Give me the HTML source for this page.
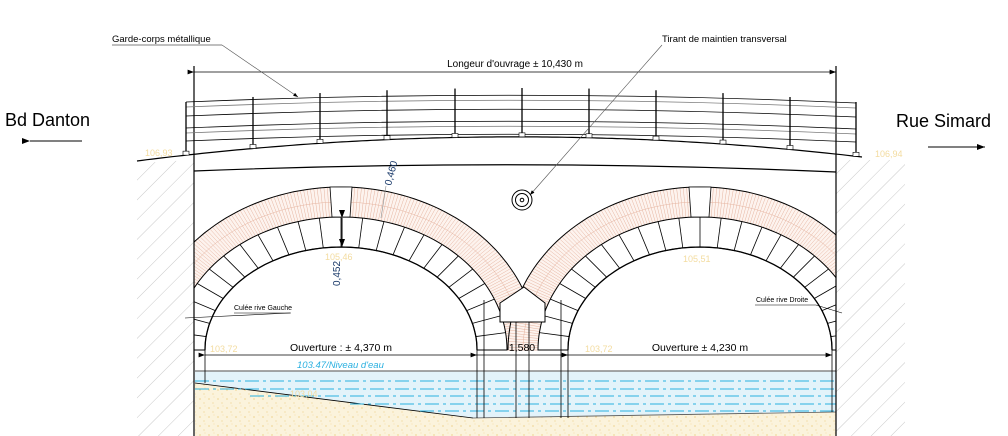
<!DOCTYPE html>
<html><head><meta charset="utf-8"><style>
html,body{margin:0;padding:0;background:#fff;overflow:hidden;width:1008px;height:436px;}
svg{display:block;font-family:"Liberation Sans",sans-serif;}
</style></head><body>
<svg id="s" width="1008" height="436" viewBox="0 0 1008 436" xmlns="http://www.w3.org/2000/svg">
<defs>
<pattern id="h" width="14" height="14" patternUnits="userSpaceOnUse" patternTransform="rotate(45)">
<line x1="0" y1="0" x2="0" y2="14" stroke="#bbb" stroke-width="0.8"/>
</pattern>
<pattern id="sand" width="9" height="9" patternUnits="userSpaceOnUse">
<rect width="9" height="9" fill="#fbf3dc"/>
<circle cx="2" cy="3" r="0.6" fill="#e8c060"/><circle cx="6" cy="7" r="0.5" fill="#e8c060"/><circle cx="7" cy="1" r="0.4" fill="#eecb70"/>
</pattern>
<clipPath id="inner"><rect x="194" y="172" width="642" height="264"/></clipPath>
<marker id="ar" markerWidth="8" markerHeight="6" refX="8" refY="3" orient="auto"><path d="M0,0 L8,3 L0,6 z" fill="#000"/></marker>
</defs>
<polygon points="137,163 194,160 194,436 137,436" fill="url(#h)"/>
<polygon points="836,160 905,160 905,436 836,436" fill="url(#h)"/>
<g id="arches" clip-path="url(#inner)"></g>
<!-- water & ground -->
<rect x="195" y="371" width="641" height="50" fill="#e3f3fa"/>
<polygon points="195,383 473,418 836,412 836,436 195,436" fill="url(#sand)"/>
<line x1="195" y1="383" x2="473" y2="418" stroke="#000" stroke-width="0.8"/>
<line x1="473" y1="418" x2="836" y2="412" stroke="#555" stroke-width="0.8"/>
<line x1="195" y1="371" x2="836" y2="371" stroke="#888" stroke-width="1.5"/>
<g stroke="#2ab0e0" stroke-width="1" stroke-dasharray="14,4,3,4">
<line x1="195" y1="381" x2="836" y2="381"/><line x1="195" y1="389" x2="836" y2="389"/>
<line x1="250" y1="396" x2="836" y2="396"/><line x1="350" y1="404" x2="836" y2="404"/><line x1="420" y1="411" x2="836" y2="411"/>
</g>
<g stroke="#000" stroke-width="1" fill="#fff">
<polygon points="500,303 524,287 545,303 545,322 500,322"/>
</g>
<g stroke="#000" stroke-width="0.8">
<line x1="484" y1="300" x2="484" y2="418"/><line x1="561" y1="300" x2="561" y2="418"/>
<line x1="516" y1="322" x2="516" y2="418"/><line x1="529" y1="322" x2="529" y2="418"/>
<line x1="477" y1="350" x2="477" y2="418"/><line x1="568" y1="350" x2="568" y2="418"/>
<line x1="205" y1="350" x2="205" y2="383"/><line x1="832" y1="350" x2="832" y2="412"/>
</g>
<g stroke="#000" stroke-width="1.2" fill="none">
<line x1="194" y1="66" x2="194" y2="436"/><line x1="836" y1="66" x2="836" y2="436"/>
<path id="deck" d=""/>
<path d="M194,171 Q520,158 836,172"/>
</g>
<g stroke="#000" fill="none" stroke-width="0.8" id="rail">
<path d="M186,102 Q520,88 856,103"/><path d="M186,107 Q520,93 856,108" stroke="#777"/>
<path d="M186,116 Q520,102 856,117"/><path d="M186,128 Q520,114 856,129"/>
<path d="M186,133 Q520,119 856,134" stroke="#777"/><path d="M186,141 Q520,127 856,142"/>
</g>
<line x1="194" y1="72" x2="836" y2="72" stroke="#000" stroke-width="0.8" marker-end="url(#ar)" marker-start="url(#ar)"/>
<text x="515" y="67" font-size="10" text-anchor="middle">Longeur d'ouvrage ± 10,430 m</text>
<text x="112" y="42" font-size="9.5">Garde-corps métallique</text>
<line x1="112" y1="45" x2="222" y2="45" stroke="#000" stroke-width="0.6"/>
<line x1="222" y1="45" x2="298" y2="97" stroke="#555" stroke-width="0.6" marker-end="url(#ar)"/>
<text x="662" y="42" font-size="9.5">Tirant de maintien transversal</text>
<line x1="662" y1="45" x2="530" y2="195" stroke="#555" stroke-width="0.6" marker-end="url(#ar)"/>
<circle cx="522" cy="200" r="10" fill="none" stroke="#000"/><circle cx="522" cy="200" r="6.5" fill="none" stroke="#000"/><circle cx="522" cy="200" r="1.8" fill="none" stroke="#000"/>
<text x="5" y="126" font-size="18">Bd Danton</text>
<line x1="30" y1="141" x2="82" y2="141" stroke="#000" marker-start="url(#ar)"/>
<text x="896" y="127" font-size="18">Rue Simard</text>
<line x1="928" y1="147" x2="985" y2="147" stroke="#000" marker-end="url(#ar)"/>
<text transform="translate(391,186) rotate(-75)" font-size="10" fill="#1a3a6a">0,460</text>
<text transform="translate(340,286) rotate(-90)" font-size="10" fill="#1a3a6a">0,452</text>
<line x1="342" y1="218" x2="342" y2="247" stroke="#000" marker-start="url(#ar)" marker-end="url(#ar)"/>
<line x1="386" y1="186" x2="381" y2="218" stroke="#888" stroke-width="0.6"/>
<text x="234" y="310" font-size="7">Culée rive Gauche</text><line x1="234" y1="313" x2="291" y2="313" stroke="#000" stroke-width="0.6"/>
<line x1="185" y1="318" x2="290" y2="313" stroke="#000" stroke-width="0.6"/>
<text x="756" y="302" font-size="7">Culée rive Droite</text><line x1="755" y1="305" x2="816" y2="305" stroke="#000" stroke-width="0.6"/>
<line x1="816" y1="305" x2="842" y2="313" stroke="#000" stroke-width="0.6"/>
<line x1="205" y1="355" x2="477" y2="355" stroke="#000" stroke-width="0.8" marker-start="url(#ar)" marker-end="url(#ar)"/>
<line x1="477" y1="355" x2="568" y2="355" stroke="#000" stroke-width="0.8"/>
<line x1="568" y1="355" x2="832" y2="355" stroke="#000" stroke-width="0.8" marker-start="url(#ar)" marker-end="url(#ar)"/>
<text x="341" y="351" font-size="10.5" text-anchor="middle">Ouverture : ± 4,370 m</text>
<text x="522" y="351" font-size="10.5" text-anchor="middle">1,580</text>
<text x="700" y="351" font-size="10.5" text-anchor="middle">Ouverture ± 4,230 m</text>
<text x="297" y="368" font-size="9.5" font-style="italic" fill="#2ab0e0">103.47/Niveau  d'eau</text>
<g font-size="9" fill="#f3dca0">
<text x="145" y="156">106,93</text><text x="875" y="157">106,94</text><text x="325" y="260">105,46</text><text x="683" y="262">105,51</text>
<text x="210" y="352">103,72</text><text x="585" y="352">103,72</text><text x="290" y="397">103,04</text>
</g>
</svg>
<script>
var NS="http://www.w3.org/2000/svg";
function el(p,t,a){var e=document.createElementNS(NS,t);for(var k in a)e.setAttribute(k,a[k]);p.appendChild(e);return e;}
function pt(cx,cy,rx,ry,t){return [cx+rx*Math.cos(t),cy-ry*Math.sin(t)];}
function pts(cx,cy,rx,ry,rev){var a=[];for(var i=0;i<=90;i++){var t=Math.PI*i/90;a.push(pt(cx,cy,rx,ry,t));}if(rev)a.reverse();return a;}
function tod(a,close){return a.map(function(p,i){return (i?"L":"M")+p[0].toFixed(1)+","+p[1].toFixed(1);}).join("")+(close?"Z":"");}
var g=document.getElementById("arches");
function arch(cx,cy,rx,ry){
 var b=30,v=30;
 var outer=pts(cx,cy,rx+v+b,ry+v+b),mid=pts(cx,cy,rx+v,ry+v),inn=pts(cx,cy,rx,ry);
 el(g,"path",{d:tod(outer.concat(mid.slice().reverse()),true),fill:"#fdf3ee",stroke:"none"});
 for(var i=0;i<=180;i++){var t=Math.PI*i/180;var a=pt(cx,cy,rx+v,ry+v,t),c=pt(cx,cy,rx+v+b,ry+v+b,t);el(g,"line",{x1:a[0],y1:a[1],x2:c[0],y2:c[1],stroke:"#e6b4a0","stroke-width":"0.5"});}
 el(g,"path",{d:tod(pts(cx,cy,rx+v+b/2,ry+v+b/2)),fill:"none",stroke:"#e6b4a0","stroke-width":"0.5"});
 el(g,"path",{d:tod(outer),fill:"none",stroke:"#000","stroke-width":"1"});
 el(g,"path",{d:tod(mid.concat(inn.slice().reverse()),true),fill:"#fff",stroke:"#000","stroke-width":"1"});
 el(g,"path",{d:tod(inn),fill:"none",stroke:"#000","stroke-width":"1.3"});
 for(var i=0;i<=24;i++){var t=Math.PI*i/24;var a=pt(cx,cy,rx,ry,t),c=pt(cx,cy,rx+v,ry+v,t);el(g,"line",{x1:a[0],y1:a[1],x2:c[0],y2:c[1],stroke:"#000","stroke-width":"0.8"});}
 el(g,"polygon",{points:(cx-9)+","+(cy-ry-v)+" "+(cx+9)+","+(cy-ry-v)+" "+(cx+11)+","+(cy-ry-v-30)+" "+(cx-11)+","+(cy-ry-v-30),fill:"#fff",stroke:"#000","stroke-width":"0.8"});
}
arch(341,350,136,103);
arch(700,350,132,103);
function deckY(x){var u=(x-137)/725;return 161-4*u+(-26)*4*u*(1-u)*0.85;}
var dd="";for(var x=137;x<=862;x+=5){dd+=(x==137?"M":"L")+x+","+deckY(x).toFixed(1);}
document.getElementById("deck").setAttribute("d",dd);
var rail=document.getElementById("rail");
[186,253,320,387,455,522,589,656,723,790,856].forEach(function(x){
 var u=(x-186)/670;var top=102-14*4*u*(1-u);var bot=deckY(x);
 el(rail,"line",{x1:x,y1:top,x2:x,y2:bot,stroke:"#000","stroke-width":"1.3"});
 el(rail,"rect",{x:x-3,y:bot-4,width:6,height:4,fill:"#fff",stroke:"#000","stroke-width":"0.6"});
});
</script>
</body></html>
